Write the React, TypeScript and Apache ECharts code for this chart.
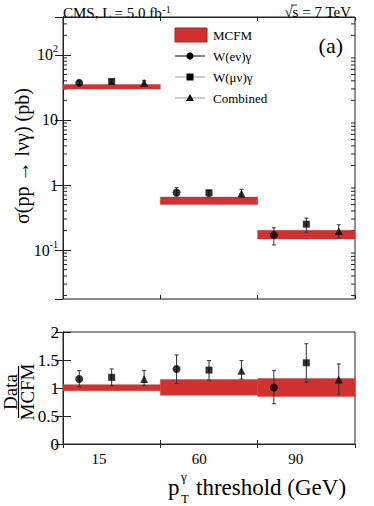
import React, { useEffect, useRef } from 'react';
import * as echarts from 'echarts';

const FONT = '"Liberation Serif", "DejaVu Serif", serif';

// bins (three pT thresholds)
const binEdges = [0, 1, 2, 3];
const thresholdLabels = ['15', '60', '90'];
const thresholdLabelPos = [0.37, 1.4, 2.39];
const pointOffsets = [1 / 6, 0.5, 5 / 6];

// top panel: cross sections (pb)
const mcfmLow = [30, 0.503, 0.148];
const mcfmHigh = [35, 0.652, 0.201];
const eleXsec = [37.2, 0.77, 0.17];
const eleLow = [34.5, 0.68, 0.12];
const eleHigh = [40, 0.91, 0.22];
const muXsec = [39, 0.76, 0.25];
const muLow = [36.5, 0.66, 0.188];
const muHigh = [41.5, 0.83, 0.31];
const combXsec = [37.5, 0.74, 0.196];
const combLow = [35.5, 0.66, 0.153];
const combHigh = [40, 0.86, 0.245];

// bottom panel: Data / MCFM
const ratioBandLow = [0.95, 0.87, 0.85];
const ratioBandHigh = [1.06, 1.15, 1.17];
const eleRatio = [1.16, 1.34, 1.01];
const eleRatioLow = [1.02, 1.08, 0.72];
const eleRatioHigh = [1.31, 1.59, 1.31];
const muRatio = [1.19, 1.32, 1.45];
const muRatioLow = [1.04, 1.14, 1.1];
const muRatioHigh = [1.34, 1.49, 1.79];
const combRatio = [1.16, 1.31, 1.15];
const combRatioLow = [1.04, 1.16, 0.89];
const combRatioHigh = [1.31, 1.49, 1.43];

// axis ticks
const logTickValues = [0.1, 1, 10, 100];
const logTickLabels = ['{b|10}{s|-1}', '1', '10', '{b|10}{s|2}'];
const logMin = 0.0177;
const logMax = 383;
const minorMultipliers = [2, 3, 4, 5, 6, 7, 8, 9];
const decades = [0.01, 0.1, 1, 10, 100];

const RED = '#d03232';

function bandData(lo: number[], hi: number[]) {
  return lo.map((l, i) => [binEdges[i], binEdges[i + 1], l, hi[i]]);
}
function pointData(vals: number[], k: number) {
  return vals.map((v, i) => [binEdges[i] + pointOffsets[k], v]);
}
function errData(lo: number[], hi: number[], k: number) {
  return lo.map((l, i) => [binEdges[i] + pointOffsets[k], l, hi[i]]);
}

const bandRender = (params: any, api: any) => {
  const p1 = api.coord([api.value(0), api.value(3)]);
  const p2 = api.coord([api.value(1), api.value(2)]);
  return {
    type: 'rect',
    shape: { x: p1[0], y: p1[1], width: p2[0] - p1[0], height: p2[1] - p1[1] },
    style: { fill: RED, stroke: 'rgba(208,50,50,0.45)', lineWidth: 1 },
  };
};

const errRender = (params: any, api: any) => {
  const x = api.value(0);
  const a = api.coord([x, api.value(1)]);
  const b = api.coord([x, api.value(2)]);
  const c = 2;
  const st = { stroke: '#333', lineWidth: 1 };
  return {
    type: 'group',
    children: [
      { type: 'line', shape: { x1: a[0], y1: a[1], x2: b[0], y2: b[1] }, style: st },
      { type: 'line', shape: { x1: a[0] - c, y1: a[1], x2: a[0] + c, y2: a[1] }, style: st },
      { type: 'line', shape: { x1: b[0] - c, y1: b[1], x2: b[0] + c, y2: b[1] }, style: st },
    ],
  };
};

const minorRender = (params: any, api: any) => {
  const v = api.value(1);
  const l = api.coord([0, v]);
  const r = api.coord([3, v]);
  const st = { stroke: '#222', lineWidth: 1 };
  return {
    type: 'group',
    children: [
      { type: 'line', shape: { x1: l[0], y1: l[1], x2: l[0] + 4, y2: l[1] }, style: st },
      { type: 'line', shape: { x1: r[0] - 4, y1: r[1], x2: r[0], y2: r[1] }, style: st },
    ],
  };
};

const minorTicks: number[][] = [];
decades.forEach((d) =>
  minorMultipliers.forEach((m) => {
    const v = d * m;
    if (v > logMin && v < logMax) minorTicks.push([0, v]);
  })
);

const fmtLog = (v: number) => {
  const i = logTickValues.findIndex((t) => Math.abs(Math.log10(t) - Math.log10(v)) < 0.01);
  return i >= 0 ? logTickLabels[i] : '';
};
const fmtThreshold = (v: number) => {
  const i = thresholdLabelPos.findIndex((t) => Math.abs(t - v) < 1e-6);
  return i >= 0 ? thresholdLabels[i] : '';
};

const txt = { fontFamily: FONT, color: '#000' };

export default function App() {
  const ref = useRef<HTMLDivElement>(null);
  useEffect(() => {
    if (!ref.current) return;
    const chart = echarts.init(ref.current, undefined, { renderer: 'svg' });

    const xBase = (gridIndex: number, position: string, extra: any = {}) => ({
      type: 'value',
      gridIndex,
      position,
      min: 0,
      max: 3,
      interval: 1,
      splitLine: { show: false },
      axisLine: { show: true, lineStyle: { color: '#222', width: 1 } },
      axisTick: { show: true, inside: true, length: 4, lineStyle: { color: '#222' } },
      axisLabel: { show: false },
      ...extra,
    });

    const logAxis = (position: string, showLabels: boolean) => ({
      type: 'log',
      logBase: 10,
      gridIndex: 0,
      position,
      min: logMin,
      max: logMax,
      splitLine: { show: false },
      axisLine: { show: true, lineStyle: { color: '#222', width: 1 } },
      axisTick: { show: true, inside: true, length: 8, lineStyle: { color: '#222' } },
      axisLabel: {
        show: showLabels,
        showMinLabel: false,
        showMaxLabel: false,
        margin: 5,
        fontSize: 16,
        fontFamily: FONT,
        color: '#000',
        formatter: fmtLog,
        rich: {
          b: { fontSize: 16, fontFamily: FONT, color: '#000', lineHeight: 22 },
          s: { fontSize: 10, fontFamily: FONT, color: '#000', lineHeight: 12, verticalAlign: 'top' },
        },
      },
    });

    const ratioAxis = (position: string, showLabels: boolean) => ({
      type: 'value',
      gridIndex: 1,
      position,
      min: 0,
      max: 2,
      interval: 0.5,
      splitLine: { show: false },
      axisLine: { show: true, lineStyle: { color: '#222', width: 1 } },
      axisTick: { show: true, inside: true, length: 8, lineStyle: { color: '#222' } },
      axisLabel: { show: showLabels, margin: 4, fontSize: 17, fontFamily: FONT, color: '#000' },
    });

    const scatter = (data: number[][], symbol: string, size: number, xi: number, yi: number) => ({
      type: 'scatter',
      xAxisIndex: xi,
      yAxisIndex: yi,
      data,
      symbol,
      symbolSize: size,
      itemStyle: { color: '#000' },
      z: 4,
      silent: true,
    });
    const errs = (data: number[][], xi: number, yi: number) => ({
      type: 'custom',
      xAxisIndex: xi,
      yAxisIndex: yi,
      data,
      encode: { x: 0, y: [1, 2] },
      renderItem: errRender,
      z: 3,
      silent: true,
    });
    const band = (data: number[][], xi: number, yi: number) => ({
      type: 'custom',
      xAxisIndex: xi,
      yAxisIndex: yi,
      data,
      encode: { x: [0, 1], y: [2, 3] },
      renderItem: bandRender,
      z: 2,
      silent: true,
    });

    const legendY = [56, 77, 98];
    const legendNames = ['W(eν)γ', 'W(μν)γ', 'Combined'];
    const legendLineColors = ['#000', '#999', '#999'];

    const graphic: any[] = [
      {
        type: 'text',
        left: 63,
        top: 4,
        style: {
          text: '{n|CMS, L = 5.0 fb}{s|-1}',
          rich: {
            n: { fontSize: 15, fontFamily: FONT, color: '#000', lineHeight: 18 },
            s: { fontSize: 10, fontFamily: FONT, color: '#000', lineHeight: 10, verticalAlign: 'top' },
          },
        },
      },
      {
        type: 'text',
        x: 351,
        y: 12,
        style: { ...txt, text: '√s = 7 TeV', fontSize: 15, align: 'right', verticalAlign: 'middle' },
      },
      { type: 'line', shape: { x1: 291, y1: 5, x2: 297, y2: 5 }, style: { stroke: '#000', lineWidth: 0.8 } },
      {
        type: 'text',
        x: 343,
        y: 45,
        style: { ...txt, text: '(a)', fontSize: 22, align: 'right', verticalAlign: 'middle' },
      },
      // legend
      { type: 'rect', shape: { x: 175, y: 28, width: 32, height: 14 }, style: { fill: RED, stroke: '#a52424', lineWidth: 1 } },
      { type: 'text', x: 213, y: 35, style: { ...txt, text: 'MCFM', fontSize: 13, verticalAlign: 'middle' } },
      ...legendY.flatMap((y, i) => [
        { type: 'line', shape: { x1: 175, y1: y, x2: 205, y2: y }, style: { stroke: legendLineColors[i], lineWidth: 1 } },
        { type: 'text', x: 213, y, style: { ...txt, text: legendNames[i], fontSize: 13, verticalAlign: 'middle' } },
      ]),
      { type: 'circle', shape: { cx: 190, cy: legendY[0], r: 3.6 }, style: { fill: '#000' } },
      { type: 'rect', shape: { x: 186.5, y: legendY[1] - 3.5, width: 7, height: 7 }, style: { fill: '#000' } },
      {
        type: 'polygon',
        shape: { points: [[190, legendY[2] - 4], [194, legendY[2] + 3], [186, legendY[2] + 3]] },
        style: { fill: '#000' },
      },
      // y title top
      {
        type: 'text',
        x: 22,
        y: 156,
        rotation: Math.PI / 2,
        style: { ...txt, text: 'σ(pp → lνγ) (pb)', fontSize: 20, align: 'center', verticalAlign: 'middle' },
      },
      // Data / MCFM
      {
        type: 'text',
        x: 10,
        y: 392,
        rotation: Math.PI / 2,
        style: { ...txt, text: 'Data', fontSize: 19, align: 'center', verticalAlign: 'middle' },
      },
      { type: 'line', shape: { x1: 18.5, y1: 366, x2: 18.5, y2: 418 }, style: { stroke: '#000', lineWidth: 1.2 } },
      {
        type: 'text',
        x: 27,
        y: 392,
        rotation: Math.PI / 2,
        style: { ...txt, text: 'MCFM', fontSize: 19, align: 'center', verticalAlign: 'middle' },
      },
      // x title
      { type: 'text', x: 168, y: 487, style: { ...txt, text: 'p', fontSize: 23, verticalAlign: 'middle' } },
      { type: 'text', x: 181, y: 476, style: { ...txt, text: 'γ', fontSize: 13, verticalAlign: 'middle' } },
      { type: 'text', x: 181, y: 498, style: { ...txt, text: 'T', fontSize: 13, verticalAlign: 'middle' } },
      { type: 'text', x: 196, y: 487, style: { ...txt, text: 'threshold (GeV)', fontSize: 23, verticalAlign: 'middle' } },
    ];

    const option: any = {
      animation: false,
      backgroundColor: '#fff',
      textStyle: { fontFamily: FONT },
      grid: [
        { left: 63, top: 17, width: 292, height: 282, show: true, borderColor: '#222', borderWidth: 1, backgroundColor: 'transparent' },
        { left: 63, top: 332, width: 292, height: 112, show: true, borderColor: '#222', borderWidth: 1, backgroundColor: 'transparent' },
      ],
      xAxis: [
        xBase(0, 'bottom', { axisLine: { show: true, lineStyle: { color: '#888', width: 1.5 } } }),
        xBase(0, 'top'),
        xBase(1, 'bottom', {
          axisTick: { show: true, inside: true, length: 4, customValues: [1, 2], lineStyle: { color: '#222' } },
          axisLabel: {
            show: true,
            customValues: thresholdLabelPos,
            formatter: fmtThreshold,
            margin: 7,
            fontSize: 15,
            fontFamily: FONT,
            color: '#000',
          },
        }),
        xBase(1, 'top'),
      ],
      yAxis: [logAxis('left', true), logAxis('right', false), ratioAxis('left', true), ratioAxis('right', false)],
      graphic,
      series: [
        band(bandData(mcfmLow, mcfmHigh), 0, 0),
        errs(errData(eleLow, eleHigh, 0), 0, 0),
        errs(errData(muLow, muHigh, 1), 0, 0),
        errs(errData(combLow, combHigh, 2), 0, 0),
        scatter(pointData(eleXsec, 0), 'circle', 8, 0, 0),
        scatter(pointData(muXsec, 1), 'rect', 7, 0, 0),
        scatter(pointData(combXsec, 2), 'triangle', 8, 0, 0),
        {
          type: 'custom',
          xAxisIndex: 0,
          yAxisIndex: 0,
          data: minorTicks,
          encode: { x: 0, y: 1 },
          renderItem: minorRender,
          z: 1,
          silent: true,
        },
        band(bandData(ratioBandLow, ratioBandHigh), 2, 2),
        errs(errData(eleRatioLow, eleRatioHigh, 0), 2, 2),
        errs(errData(muRatioLow, muRatioHigh, 1), 2, 2),
        errs(errData(combRatioLow, combRatioHigh, 2), 2, 2),
        scatter(pointData(eleRatio, 0), 'circle', 8, 2, 2),
        scatter(pointData(muRatio, 1), 'rect', 7, 2, 2),
        scatter(pointData(combRatio, 2), 'triangle', 8, 2, 2),
      ],
    };
    chart.setOption(option);
    return () => chart.dispose();
  }, []);

  return <div ref={ref} style={{ position: 'absolute', left: 0, top: 0, width: 374, height: 506, background: '#fff' }} />;
}
